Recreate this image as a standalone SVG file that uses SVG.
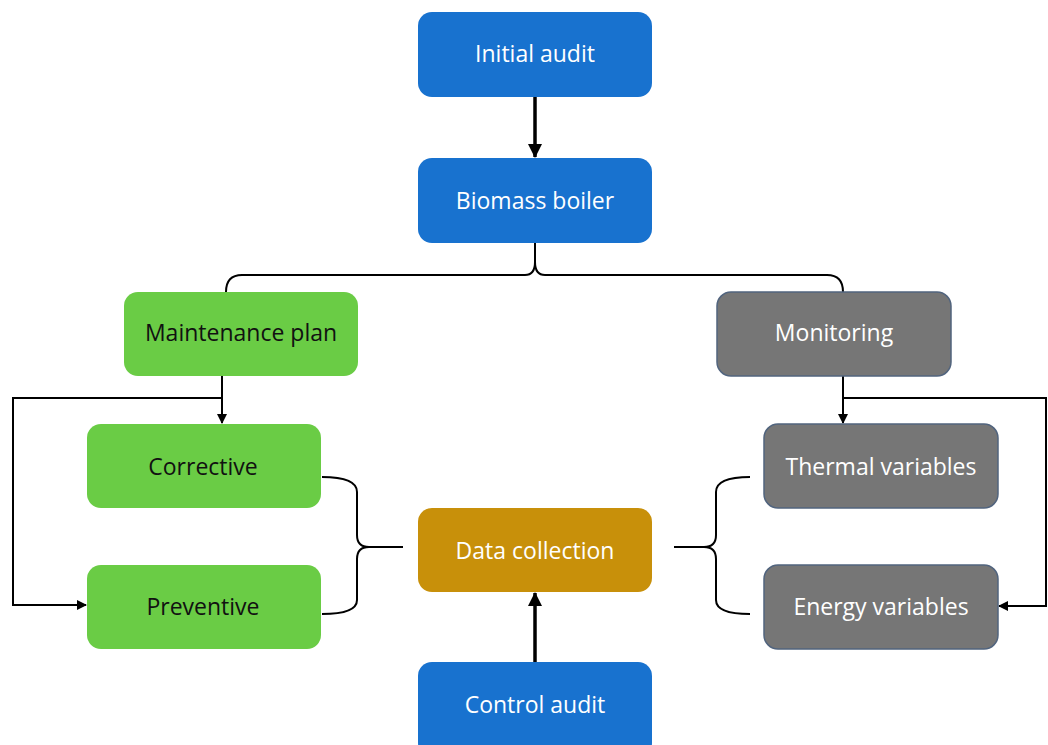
<svg xmlns="http://www.w3.org/2000/svg" width="1048" height="745" viewBox="0 0 1048 745">
<style>
.blue{fill:#1872CF;}
.green{fill:#6ACC45;}
.gray{fill:#767676;stroke:#51647E;stroke-width:1.5;}
.gold{fill:#C8900A;}
.tw{font-family:"Open Sans","Noto Sans",sans-serif;font-size:23px;fill:#FFFFFF;text-anchor:middle;dominant-baseline:central;}
.tb{font-family:"Open Sans","Noto Sans",sans-serif;font-size:23px;fill:#111111;text-anchor:middle;dominant-baseline:central;}
.thin{fill:none;stroke:#000;stroke-width:2;}
.thick{fill:none;stroke:#000;stroke-width:3.5;}
</style>
<defs>
<marker id="ah" markerWidth="10" markerHeight="10" refX="9" refY="5" orient="auto" markerUnits="userSpaceOnUse">
<path d="M0,0 L10,5 L0,10 Z" fill="#000"/>
</marker>
<marker id="ahb" markerWidth="14" markerHeight="14" refX="13" refY="7" orient="auto" markerUnits="userSpaceOnUse">
<path d="M0,0 L14,7 L0,14 Z" fill="#000"/>
</marker>
</defs>
<rect width="1048" height="745" fill="#FFFFFF"/>
<g id="connectors">
<line class="thick" x1="535" y1="97" x2="535" y2="157" marker-end="url(#ahb)"/>
<path class="thin" d="M226,292 Q226,275 242,275 L525,275 Q535,275 535,262 L535,243"/>
<path class="thin" d="M535,262 Q535,275 545,275 L827,275 Q843,275 843,292"/>
<line class="thin" x1="222" y1="376" x2="222" y2="423" marker-end="url(#ah)"/>
<polyline class="thin" points="222,398 13,398 13,605 86,605" marker-end="url(#ah)"/>
<line class="thin" x1="843" y1="376" x2="843" y2="423" marker-end="url(#ah)"/>
<polyline class="thin" points="843,398 1046,398 1046,606 999,606" marker-end="url(#ah)"/>
<path class="thin" d="M322,477 Q357,477 357,492 L357,535 Q357,547 369,547 L403,547"/>
<path class="thin" d="M369,547 Q357,547 357,559 L357,600 Q357,614 322,614"/>
<path class="thin" d="M750,477 Q716,477 716,492 L716,535 Q716,547 704,547 L674,547"/>
<path class="thin" d="M704,547 Q716,547 716,559 L716,600 Q716,614 750,614"/>
<line class="thick" x1="535" y1="662" x2="535" y2="593" marker-end="url(#ahb)"/>
</g>
<g id="initial-audit">
<rect class="blue" x="418" y="12" width="234" height="85" rx="14"/>
<text class="tw" x="535" y="53">Initial audit</text>
</g>
<g id="biomass-boiler">
<rect class="blue" x="418" y="158" width="234" height="85" rx="14"/>
<text class="tw" x="535" y="200">Biomass boiler</text>
</g>
<g id="maintenance-plan">
<rect class="green" x="124" y="292" width="234" height="84" rx="14"/>
<text class="tb" x="241" y="332">Maintenance plan</text>
</g>
<g id="monitoring">
<rect class="gray" x="717" y="292" width="234" height="84" rx="14"/>
<text class="tw" x="834" y="332">Monitoring</text>
</g>
<g id="corrective">
<rect class="green" x="87" y="424" width="234" height="84" rx="14"/>
<text class="tb" x="203" y="466">Corrective</text>
</g>
<g id="preventive">
<rect class="green" x="87" y="565" width="234" height="84" rx="14"/>
<text class="tb" x="203" y="606">Preventive</text>
</g>
<g id="data-collection">
<rect class="gold" x="418" y="508" width="234" height="84" rx="14"/>
<text class="tw" x="535" y="550">Data collection</text>
</g>
<g id="thermal-variables">
<rect class="gray" x="764" y="424" width="234" height="84" rx="14"/>
<text class="tw" x="881" y="466">Thermal variables</text>
</g>
<g id="energy-variables">
<rect class="gray" x="764" y="565" width="234" height="84" rx="14"/>
<text class="tw" x="881" y="606">Energy variables</text>
</g>
<g id="control-audit">
<rect class="blue" x="418" y="662" width="234" height="95" rx="14"/>
<text class="tw" x="535" y="704">Control audit</text>
</g>
</svg>
